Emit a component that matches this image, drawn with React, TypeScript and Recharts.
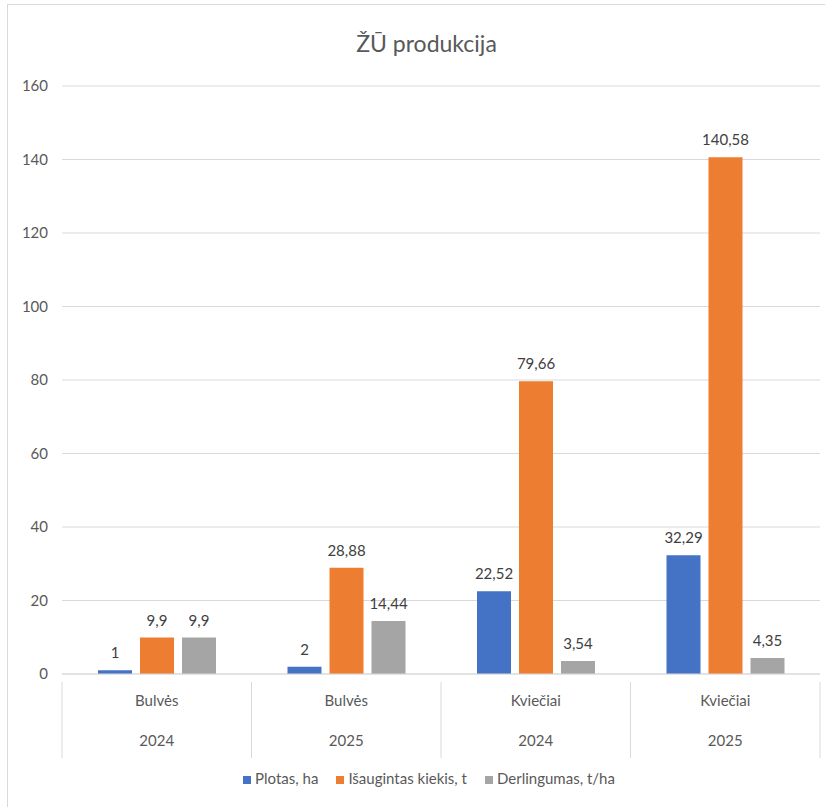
import { BarChart, Bar, XAxis, YAxis, CartesianGrid, Legend, LabelList } from 'recharts'

const crops = ['Bulvės', 'Bulvės', 'Kviečiai', 'Kviečiai']
const years = ['2024', '2025', '2024', '2025']
const plotas = [1, 2, 22.52, 32.29]
const kiekis = [9.9, 28.88, 79.66, 140.58]
const derlingumas = [9.9, 14.44, 3.54, 4.35]
const seriesNames = ['Plotas, ha', 'Išaugintas kiekis, t', 'Derlingumas, t/ha']
const yTicks = [0, 20, 40, 60, 80, 100, 120, 140, 160]

const data = crops.map((c, i) => ({
  key: `${c} ${years[i]}`,
  plotas: plotas[i],
  kiekis: kiekis[i],
  derlingumas: derlingumas[i],
}))

const FONT = 'Lato, "Open Sans", sans-serif'
const W = 825
const H = 807
const M = { top: 86, right: 5, bottom: 18, left: 0 }
const Y_W = 62
const BAND = (W - M.right - M.left - Y_W) / crops.length

const fmt = (v: any) => String(v).replace('.', ',')

function CatTick(props: any) {
  const { x, y, index } = props
  return (
    <g>
      <line x1={x - BAND / 2} x2={x - BAND / 2} y1={y} y2={y + 76} stroke="#d9d9d9" />
      {index === crops.length - 1 && (
        <line x1={x + BAND / 2} x2={x + BAND / 2} y1={y} y2={y + 76} stroke="#d9d9d9" />
      )}
      <text x={x} y={y + 24} textAnchor="middle" fill="#595959" fontSize={15} fontFamily={FONT}>
        {crops[index]}
      </text>
      <text x={x} y={y + 64} textAnchor="middle" fill="#595959" fontSize={15} fontFamily={FONT}>
        {years[index]}
      </text>
    </g>
  )
}

const labelStyle = { fill: '#404040', fontSize: 15, fontFamily: FONT }

export default function App() {
  return (
    <div style={{ position: 'absolute', left: 0, top: 0, width: W, height: H, overflow: 'hidden', background: '#fff' }}>
      <div
        style={{
          position: 'absolute', left: 7, top: 4, width: 900, height: 900,
          border: '1px solid #d9d9d9', boxSizing: 'border-box',
        }}
      />
      <div
        style={{
          position: 'absolute', left: 0, top: 29, width: W + 28, textAlign: 'center',
          fontFamily: FONT, fontSize: 23, color: '#595959',
        }}
      >
        ŽŪ produkcija
      </div>
      <BarChart width={W} height={H} data={data} margin={M} barSize={34} barGap={8}>
        <CartesianGrid vertical={false} stroke="#d9d9d9" />
        <XAxis
          dataKey="key"
          height={95}
          interval={0}
          tickLine={false}
          axisLine={{ stroke: '#d9d9d9' }}
          tick={<CatTick />}
        />
        <YAxis
          width={Y_W}
          domain={[0, 160]}
          ticks={yTicks}
          axisLine={false}
          tickLine={false}
          tickMargin={8}
          tick={{ fill: '#595959', fontSize: 15, fontFamily: FONT }}
        />
        <Legend
          height={20}
          iconType="square"
          iconSize={8}
          itemSorter={(item: any) => seriesNames.indexOf(item.value)}
          wrapperStyle={{ fontFamily: FONT, fontSize: 15, color: '#595959', paddingLeft: 28 }}
          formatter={(v: any) => <span style={{ color: '#595959', marginRight: 8 }}>{v}</span>}
        />
        <Bar dataKey="plotas" name={seriesNames[0]} fill="#4472C4" isAnimationActive={false}>
          <LabelList dataKey="plotas" position="top" offset={12} formatter={fmt} style={labelStyle} />
        </Bar>
        <Bar dataKey="kiekis" name={seriesNames[1]} fill="#ED7D31" isAnimationActive={false}>
          <LabelList dataKey="kiekis" position="top" offset={12} formatter={fmt} style={labelStyle} />
        </Bar>
        <Bar dataKey="derlingumas" name={seriesNames[2]} fill="#A5A5A5" isAnimationActive={false}>
          <LabelList dataKey="derlingumas" position="top" offset={12} formatter={fmt} style={labelStyle} />
        </Bar>
      </BarChart>
    </div>
  )
}
